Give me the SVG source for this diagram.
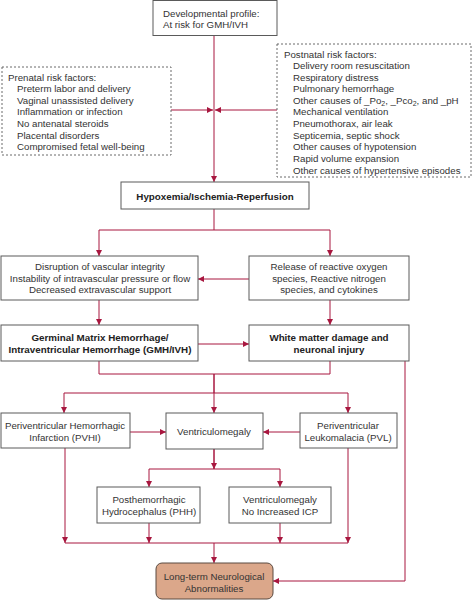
<svg xmlns="http://www.w3.org/2000/svg" width="472" height="600" viewBox="0 0 472 600">
<defs>
<marker id="ah" markerUnits="userSpaceOnUse" markerWidth="7" markerHeight="6" refX="6" refY="3" orient="auto">
<path d="M0,0 L6,3 L0,6 z" fill="#a8173f"/>
</marker>
<style>
.box{fill:#fff;stroke:#5a5a5a;stroke-width:1}
.dbox{fill:#fff;stroke:#6a6a6a;stroke-width:1;stroke-dasharray:2,2}
.t{font-family:"Liberation Sans",Arial,sans-serif;font-size:9.7px;fill:#333}
.b{font-family:"Liberation Sans",Arial,sans-serif;font-size:9.8px;font-weight:bold;fill:#222}
.c{text-anchor:middle}
.ln{fill:none;stroke:#a8173f;stroke-width:1}
.ar{fill:none;stroke:#a8173f;stroke-width:1;marker-end:url(#ah)}
</style>
</defs>
<rect width="472" height="600" fill="#fff"/>

<g id="connectors">
<path class="ar" d="M214,35 V182"/>
<path class="ar" d="M171,110 H213"/>
<path class="ar" d="M277,110 H215"/>
<path class="ln" d="M214,209 V230 M99,230 H330"/>
<path class="ar" d="M99,230 V256"/>
<path class="ar" d="M330,230 V256"/>
<path class="ar" d="M249,279 H198"/>
<path class="ar" d="M99,300 V325"/>
<path class="ar" d="M330,300 V325"/>
<path class="ar" d="M198,344 H249"/>
<path class="ln" d="M99,361 V374 H330 V361 M214,374 V393 M64,393 H348"/>
<path class="ar" d="M214,374 V413"/>
<path class="ar" d="M64,393 V413"/>
<path class="ar" d="M348,393 V413"/>
<path class="ar" d="M405,361 V581 H273"/>
<path class="ar" d="M130,432 H166"/>
<path class="ar" d="M300,432 H263"/>
<path class="ln" d="M214,449 V469 M149,469 H280"/>
<path class="ar" d="M214,449 V469"/>
<path class="ar" d="M149,469 V487"/>
<path class="ar" d="M280,469 V487"/>
<path class="ln" d="M65,543 H348"/>
<path class="ar" d="M65,448 V543"/>
<path class="ar" d="M149,523 V543"/>
<path class="ar" d="M280,523 V543"/>
<path class="ar" d="M348,448 V543"/>
<path class="ar" d="M214,543 V563"/>
</g>

<g id="profile">
<rect class="box" x="153" y="0.5" width="124" height="35"/>
<text class="t" x="163" y="17">Developmental profile:</text>
<text class="t" x="163" y="28">At risk for GMH/IVH</text>
</g>

<g id="prenatal">
<rect class="dbox" x="2" y="67" width="169" height="88"/>
<text class="t" x="8" y="81">Prenatal risk factors:</text>
<text class="t" x="17" y="92">Preterm labor and delivery</text>
<text class="t" x="17" y="104">Vaginal unassisted delivery</text>
<text class="t" x="17" y="115">Inflammation or infection</text>
<text class="t" x="17" y="127">No antenatal steroids</text>
<text class="t" x="17" y="139">Placental disorders</text>
<text class="t" x="17" y="150">Compromised fetal well-being</text>
</g>

<g id="postnatal">
<rect class="dbox" x="277" y="44" width="194" height="133"/>
<text class="t" x="284" y="58">Postnatal risk factors:</text>
<text class="t" x="293" y="69">Delivery room resuscitation</text>
<text class="t" x="293" y="81">Respiratory distress</text>
<text class="t" x="293" y="92">Pulmonary hemorrhage</text>
<text class="t" x="293" y="104">Other causes of _Po<tspan font-size="7" dy="2">2</tspan><tspan dy="-2">, _Pco</tspan><tspan font-size="7" dy="2">2</tspan><tspan dy="-2">, and _pH</tspan></text>
<text class="t" x="293" y="115">Mechanical ventilation</text>
<text class="t" x="293" y="127">Pneumothorax, air leak</text>
<text class="t" x="293" y="139">Septicemia, septic shock</text>
<text class="t" x="293" y="150">Other causes of hypotension</text>
<text class="t" x="293" y="162">Rapid volume expansion</text>
<text class="t" x="293" y="174">Other causes of hypertensive episodes</text>
</g>

<g id="hypoxemia">
<rect class="box" x="121" y="182" width="188" height="27"/>
<text class="b c" x="215" y="200">Hypoxemia/Ischemia-Reperfusion</text>
</g>

<g id="disruption">
<rect class="box" x="1" y="256" width="197" height="44"/>
<text class="t c" x="100" y="270">Disruption of vascular integrity</text>
<text class="t c" x="100" y="282">Instability of intravascular pressure or flow</text>
<text class="t c" x="100" y="293">Decreased extravascular support</text>
</g>

<g id="release">
<rect class="box" x="249" y="256" width="160" height="44"/>
<text class="t c" x="329" y="270">Release of reactive oxygen</text>
<text class="t c" x="329" y="282">species, Reactive nitrogen</text>
<text class="t c" x="329" y="293">species, and cytokines</text>
</g>

<g id="gmh">
<rect class="box" x="1" y="325" width="197" height="36"/>
<text class="b c" x="100" y="341">Germinal Matrix Hemorrhage/</text>
<text class="b c" x="100" y="353">Intraventricular Hemorrhage (GMH/IVH)</text>
</g>

<g id="whitematter">
<rect class="box" x="249" y="325" width="160" height="36"/>
<text class="b c" x="329" y="341">White matter damage and</text>
<text class="b c" x="329" y="353">neuronal injury</text>
</g>

<g id="pvhi">
<rect class="box" x="1" y="413" width="129" height="35"/>
<text class="t c" x="65" y="429">Periventricular Hemorrhagic</text>
<text class="t c" x="65" y="441">Infarction (PVHI)</text>
</g>

<g id="ventriculomegaly">
<rect class="box" x="166" y="413" width="97" height="36"/>
<text class="t c" x="214" y="435">Ventriculomegaly</text>
</g>

<g id="pvl">
<rect class="box" x="300" y="413" width="97" height="35"/>
<text class="t c" x="348" y="429">Periventricular</text>
<text class="t c" x="348" y="441">Leukomalacia (PVL)</text>
</g>

<g id="phh">
<rect class="box" x="97" y="487" width="103" height="36"/>
<text class="t c" x="149" y="503">Posthemorrhagic</text>
<text class="t c" x="149" y="515">Hydrocephalus (PHH)</text>
</g>

<g id="noicp">
<rect class="box" x="229" y="487" width="102" height="36"/>
<text class="t c" x="280" y="503">Ventriculomegaly</text>
<text class="t c" x="280" y="515">No Increased ICP</text>
</g>

<g id="longterm">
<rect x="156" y="563" width="117" height="36" rx="6" ry="6" fill="#dba78a" stroke="#5a4a40" stroke-width="1"/>
<text class="t c" x="214" y="580">Long-term Neurological</text>
<text class="t c" x="214" y="592">Abnormalities</text>
</g>
</svg>
